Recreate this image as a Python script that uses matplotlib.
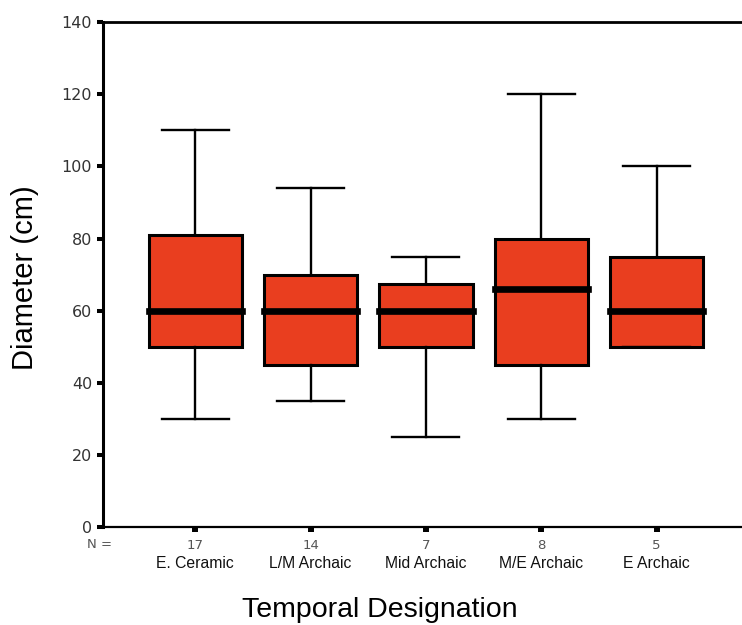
import matplotlib
matplotlib.use("Agg")
import matplotlib.pyplot as plt

# Pit diameters (cm) by temporal designation
categories = ["E. Ceramic", "L/M Archaic", "Mid Archaic", "M/E Archaic", "E Archaic"]
n_counts = [17, 14, 7, 8, 5]
whisker_low = [30, 35, 25, 30, 50]
quartile_1 = [50, 45, 50, 45, 50]
medians = [60, 60, 60, 66, 60]
quartile_3 = [81, 70, 67.5, 80, 75]
whisker_high = [110, 94, 75, 120, 100]
y_ticks = [0, 20, 40, 60, 80, 100, 120, 140]

BOX_COLOR = "#E93E1F"

fig = plt.figure(figsize=(7.42, 6.25), dpi=100)
ax = fig.add_axes([103.3 / 742, 1 - 527.3 / 625, 1 - 103.3 / 742, (527.3 - 22) / 625])

stats = []
for name, lo, q1, med, q3, hi in zip(categories, whisker_low, quartile_1,
                                      medians, quartile_3, whisker_high):
    stats.append(dict(label=name, whislo=lo, q1=q1, med=med, q3=q3,
                      whishi=hi, fliers=[]))

positions = list(range(1, len(categories) + 1))
ax.bxp(stats, positions=positions, widths=0.81, capwidths=0.58,
       showfliers=False, patch_artist=True,
       boxprops=dict(facecolor=BOX_COLOR, edgecolor="black", linewidth=2.2),
       whiskerprops=dict(color="black", linewidth=1.7),
       capprops=dict(color="black", linewidth=1.7),
       medianprops=dict(color="black", linewidth=4.8,
                        solid_capstyle="projecting"))

ax.set_xlim(0.203, 5.74)
ax.set_ylim(0, 140)

# Spines: left, bottom and top only
ax.spines["right"].set_visible(False)
ax.spines["left"].set_linewidth(2.2)
ax.spines["bottom"].set_linewidth(1.6)
ax.spines["top"].set_linewidth(2.0)

# Y axis ticks
ax.set_yticks(y_ticks)
ax.set_yticklabels([str(v) for v in y_ticks], family="DejaVu Sans",
                   fontsize=11.5, color="#333333")
ax.tick_params(axis="y", direction="out", length=4, width=2.9,
               color="black", pad=4)

# X axis ticks carry the sample sizes
ax.set_xticks(positions)
ax.set_xticklabels([str(n) for n in n_counts], family="DejaVu Sans",
                   fontsize=9.5, color="#555555")
ax.tick_params(axis="x", direction="out", length=3.6, width=4.3,
               color="black", pad=4.5)

# Category names below the sample sizes
for pos, name in zip(positions, categories):
    ax.annotate(name, xy=(pos, 0), xycoords=("data", "axes fraction"),
                xytext=(0, -26.4), textcoords="offset points",
                ha="center", va="center", family="Liberation Sans",
                fontsize=11.3, color="#111111")

fig.text(100 / 742, 1 - 544 / 625, "N =", ha="center", va="center",
         family="DejaVu Sans", fontsize=9.5, color="#555555")

fig.text(380 / 742, 1 - 617 / 625, "Temporal Designation", ha="center",
         va="baseline", family="Liberation Sans", fontsize=20.5, color="black")
fig.text(25 / 742, 1 - 278 / 625, "Diameter (cm)", rotation=90, ha="center",
         va="center", family="Liberation Sans", fontsize=21, color="black")

fig.savefig("out.png", dpi=100)
